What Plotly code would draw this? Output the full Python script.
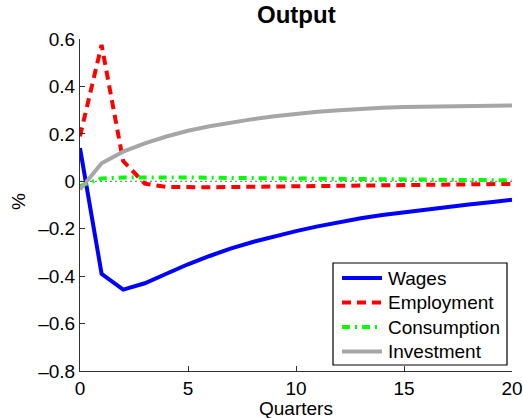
import plotly.graph_objects as go

quarters = list(range(21))
wages = [0.14, -0.39, -0.457, -0.43, -0.39, -0.35, -0.315, -0.283, -0.256, -0.232, -0.21,
         -0.19, -0.172, -0.156, -0.142, -0.13, -0.118, -0.108, -0.098, -0.088, -0.078]
employment = [0.19, 0.575, 0.085, -0.01, -0.024, -0.026, -0.025, -0.024, -0.023, -0.022, -0.021,
              -0.02, -0.019, -0.018, -0.017, -0.016, -0.015, -0.014, -0.013, -0.012, -0.011]
consumption = [-0.02, 0.012, 0.016, 0.017, 0.017, 0.016, 0.015, 0.014, 0.013, 0.012, 0.011,
               0.010, 0.009, 0.008, 0.008, 0.007, 0.006, 0.006, 0.005, 0.005, 0.004]
investment = [-0.035, 0.076, 0.125, 0.16, 0.189, 0.213, 0.232, 0.248, 0.262, 0.274, 0.285,
              0.293, 0.300, 0.306, 0.310, 0.313, 0.315, 0.317, 0.318, 0.319, 0.32]

series_names = ["Wages", "Employment", "Consumption", "Investment"]
series_values = [wages, employment, consumption, investment]

xticks = [0, 5, 10, 15, 20]
yticks = [0.6, 0.4, 0.2, 0, -0.2, -0.4, -0.6, -0.8]
yticklabels = ["0.6", "0.4", "0.2", "0", "\u20130.2", "\u20130.4", "\u20130.6", "\u20130.8"]

styles = [
    dict(color="#0000ff", width=4),
    dict(color="#ff0000", width=4, dash="9px,6px"),
    dict(color="#00ff00", width=4, dash="8px,5px,2px,5px"),
    dict(color="#a6a6a6", width=4),
]

FONT = "Liberation Sans, Arial, sans-serif"
FS = 19
W, H = 523, 418
ML, MR, MT, MB = 80, 11, 39, 47
PW, PH = W - ML - MR, H - MT - MB


def px_x(p):
    return (p - ML) / PW


def px_y(p):
    return (H - MB - p) / PH


fig = go.Figure()
fig.add_trace(go.Scatter(x=quarters, y=[0] * len(quarters), mode="lines",
                         line=dict(color="#888888", width=1.2, dash="2px,3px"),
                         showlegend=False, hoverinfo="skip"))
for name, vals, st in zip(series_names, series_values, styles):
    fig.add_trace(go.Scatter(x=quarters, y=vals, mode="lines", name=name,
                             line=st, showlegend=False))

# legend box drawn in paper coordinates
shapes = [dict(type="rect", xref="paper", yref="paper",
               x0=px_x(333), x1=px_x(507), y0=px_y(365), y1=px_y(263),
               line=dict(color="black", width=1.2), fillcolor="white", layer="above")]
annotations = []
for i, (name, st) in enumerate(zip(series_names, styles)):
    yy = px_y(278 + i * 24.5)
    shapes.append(dict(type="line", xref="paper", yref="paper",
                       x0=px_x(342), x1=px_x(382), y0=yy, y1=yy,
                       line=st, layer="above"))
    annotations.append(dict(text=name, xref="paper", yref="paper", x=px_x(386), y=yy,
                            xanchor="left", yanchor="middle", showarrow=False,
                            font=dict(size=FS, family=FONT, color="black")))

annotations += [
    dict(text="<b>Output</b>", xref="paper", yref="paper", x=0.5, y=1,
         yshift=25, xanchor="center", yanchor="middle", showarrow=False,
         font=dict(size=24, family=FONT)),
    dict(text="Quarters", xref="paper", yref="paper", x=0.5, y=0, yshift=-37,
         xanchor="center", yanchor="middle", showarrow=False,
         font=dict(size=FS, family=FONT)),
    dict(text="%", xref="paper", yref="paper", x=0, xshift=-62, y=0.5, yshift=3,
         textangle=-90, xanchor="center", yanchor="middle", showarrow=False,
         font=dict(size=FS, family=FONT)),
]

fig.update_layout(
    width=W, height=H,
    margin=dict(l=ML, r=MR, t=MT, b=MB, autoexpand=False),
    paper_bgcolor="white", plot_bgcolor="white",
    font=dict(family=FONT, size=FS, color="black"),
    showlegend=False,
    xaxis=dict(range=[0, 20], tickvals=xticks, ticktext=[str(v) for v in xticks],
               showgrid=False, zeroline=False, showline=True, linecolor="#333333",
               linewidth=1, ticks="inside", ticklen=5, tickcolor="#333333",
               automargin=False, tickfont=dict(size=FS, family=FONT)),
    yaxis=dict(range=[-0.8, 0.6], tickvals=yticks, ticktext=yticklabels,
               showgrid=False, zeroline=False, showline=True, linecolor="#333333",
               linewidth=1, ticks="inside", ticklen=5, tickcolor="#333333",
               automargin=False, tickfont=dict(size=FS, family=FONT)),
    shapes=shapes,
    annotations=annotations,
)

fig.write_html("out.html")
